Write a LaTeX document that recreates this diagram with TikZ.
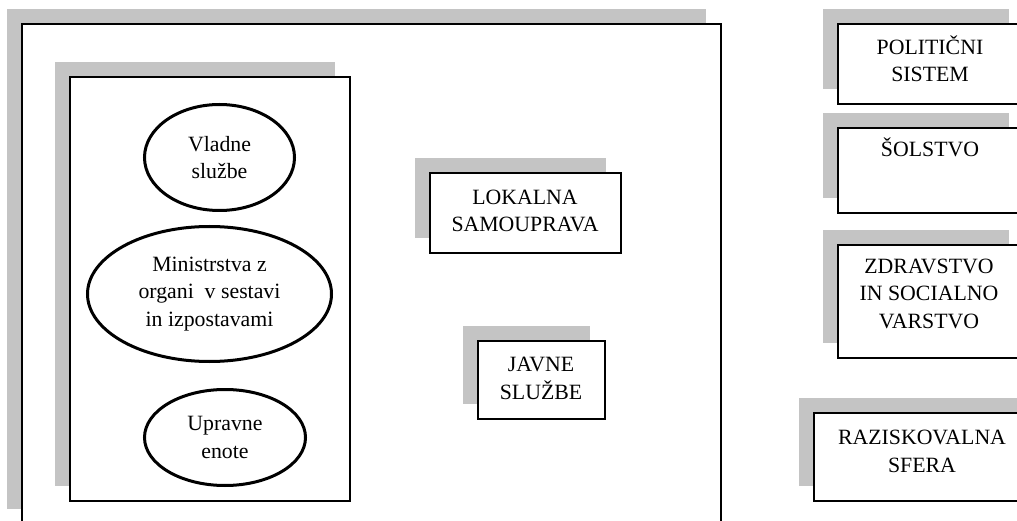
\documentclass[tikz,border=0pt]{standalone}
\usepackage{fontspec}
\setmainfont{Liberation Serif}
\usetikzlibrary{shapes.geometric,shadows}
\definecolor{shadowgray}{RGB}{196,196,196}
\newcommand\lblfont{\fontsize{21.8}{27.5}\selectfont}
\begin{document}
\begin{tikzpicture}[x=1pt,y=-1pt,
  framebox/.style={draw=black, line width=1.9pt, fill=white, rectangle, inner sep=0pt,
    general shadow={fill=shadowgray, shadow xshift=-15pt, shadow yshift=15pt}},
  oval/.style={draw=black, line width=3pt, fill=white, ellipse, inner sep=0pt,
    align=center, font=\lblfont},
  lbl/.style={inner sep=0pt, align=center, font=\lblfont, anchor=base}]
\useasboundingbox (0,0) rectangle (1017,521);
\clip (0,0) rectangle (1017,521);
% outer frame
\node[framebox, minimum width=699pt, minimum height=500pt, anchor=north west] (outer) at (21,23) {};
% inner frame
\node[framebox, minimum width=280pt, minimum height=424pt, anchor=north west] (inner) at (69,76) {};
% ellipses
\node[oval, minimum width=150pt, minimum height=106pt] (vladne) at (219.5,157.5) {Vladne\\službe};
\node[oval, minimum width=244pt, minimum height=135pt] (min) at (209.5,294) {Ministrstva z\\organi \ v sestavi\\in izpostavami};
\node[oval, minimum width=161pt, minimum height=96pt] (upr) at (225,437.5) {Upravne\\enote};
% middle boxes
\node[framebox, minimum width=191pt, minimum height=80pt, anchor=north west] (lok) at (429,172) {};
\node[lbl] (lokt) at (525,232) {LOKALNA\\SAMOUPRAVA};
\node[framebox, minimum width=127pt, minimum height=78pt, anchor=north west] (jav) at (477,340) {};
\node[lbl] (javt) at (541,399) {JAVNE\\SLUŽBE};
% right boxes
\node[framebox, minimum width=186pt, minimum height=80pt, anchor=north west] (pol) at (837,23) {};
\node[lbl] (polt) at (930,82) {POLITIČNI\\SISTEM};
\node[framebox, minimum width=186pt, minimum height=85pt, anchor=north west] (sol) at (837,127) {};
\node[lbl] (solt) at (930,157) {ŠOLSTVO};
\node[framebox, minimum width=186pt, minimum height=113pt, anchor=north west] (zdr) at (837,244) {};
\node[lbl] (zdrt) at (929,328) {ZDRAVSTVO\\IN SOCIALNO\\VARSTVO};
\node[framebox, minimum width=218pt, minimum height=88pt, anchor=north west] (raz) at (813,412) {};
\node[lbl] (razt) at (922,472) {RAZISKOVALNA\\SFERA};
\end{tikzpicture}
\end{document}
